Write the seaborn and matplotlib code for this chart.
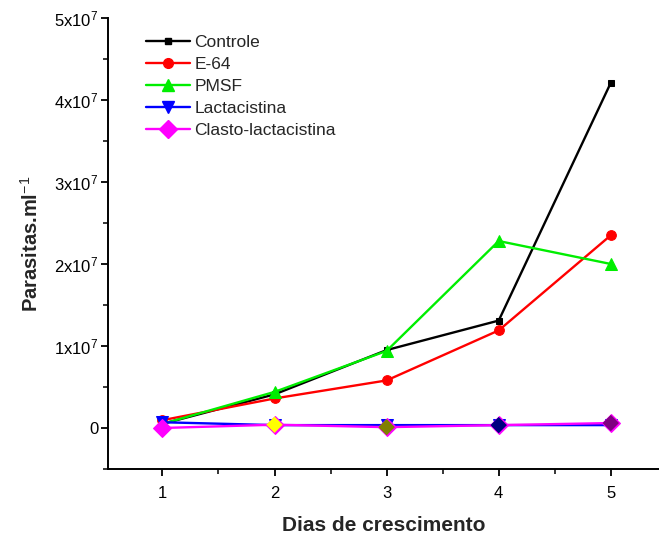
import matplotlib
matplotlib.use("Agg")
import matplotlib.pyplot as plt
from matplotlib.ticker import MultipleLocator, FixedLocator
from matplotlib.lines import Line2D
import seaborn as sns
import pandas as pd

days = [1, 2, 3, 4, 5]
controle = [0.5e6, 4.1e6, 9.5e6, 13.1e6, 42.1e6]
e64 = [0.95e6, 3.6e6, 5.8e6, 11.9e6, 23.5e6]
pmsf = [0.5e6, 4.4e6, 9.4e6, 22.8e6, 20.0e6]
lactacistina = [0.7e6, 0.35e6, 0.35e6, 0.35e6, 0.35e6]
clasto = [0.0e6, 0.4e6, 0.1e6, 0.35e6, 0.6e6]

series_names = ["Controle", "E-64", "PMSF", "Lactacistina", "Clasto-lactacistina"]
series_values = [controle, e64, pmsf, lactacistina, clasto]
colors = ["#000000", "#ff0000", "#00ee00", "#0000ff", "#ff00ff"]
markers = ["s", "o", "^", "v", "D"]
marker_sizes = [5, 7, 9, 9, 9]
clasto_point_colors = ["#ff00ff", "#ffff00", "#808000", "#000080", "#800080"]

yticks = [0, 1e7, 2e7, 3e7, 4e7, 5e7]
ytick_labels = ["0", r"1x10$^7$", r"2x10$^7$", r"3x10$^7$", r"4x10$^7$", r"5x10$^7$"]

rows = []
for name, vals in zip(series_names, series_values):
    for d, v in zip(days, vals):
        rows.append({"dia": d, "valor": v, "serie": name})
df = pd.DataFrame(rows)

sns.set_style("ticks")
plt.rcParams["font.family"] = ["Liberation Sans", "DejaVu Sans"]
plt.rcParams["mathtext.fontset"] = "custom"
plt.rcParams["mathtext.rm"] = "Liberation Sans"
plt.rcParams["mathtext.it"] = "Liberation Sans"
plt.rcParams["mathtext.bf"] = "Liberation Sans:bold"

fig = plt.figure(figsize=(6.59, 5.43), dpi=100)
ax = fig.add_axes([0.164, 0.1363, 0.836, 0.8306])

for name, col, mk, ms in zip(series_names, colors, markers, marker_sizes):
    sub = df[df["serie"] == name]
    sns.lineplot(data=sub, x="dia", y="valor", color=col, marker=mk,
                 markersize=ms, markeredgecolor=col, linewidth=1.7,
                 ax=ax, legend=False, zorder=3)

# Individually coloured markers for the clasto-lactacistina series
sub = df[df["serie"] == "Clasto-lactacistina"]
sns.scatterplot(data=sub, x="dia", y="valor", hue="dia",
                palette=dict(zip(days, clasto_point_colors)), marker="D",
                s=70, edgecolor="none", ax=ax, legend=False, zorder=4)

ax.set_xlim(0.515, 5.43)
ax.set_ylim(-5e6, 5e7)
ax.xaxis.set_major_locator(FixedLocator(days))
ax.xaxis.set_minor_locator(MultipleLocator(0.5))
ax.yaxis.set_major_locator(FixedLocator(yticks))
ax.yaxis.set_minor_locator(MultipleLocator(5e6))
ax.set_yticklabels(ytick_labels)
ax.tick_params(axis="both", which="major", direction="out", length=5, width=1.3,
               labelsize=12, colors="black")
ax.tick_params(axis="x", which="major", pad=7)
ax.tick_params(axis="y", which="major", pad=2)
ax.tick_params(axis="both", which="minor", direction="out", length=3.5, width=1.3)
for sp in ["top", "right"]:
    ax.spines[sp].set_visible(False)
for sp in ["left", "bottom"]:
    ax.spines[sp].set_linewidth(1.4)
    ax.spines[sp].set_color("black")

ax.set_xlabel("Dias de crescimento", fontsize=15, fontweight="bold", labelpad=11)
ax.set_ylabel(r"Parasitas.ml$^{-1}$", fontsize=14.5, fontweight="bold", labelpad=9)

handles = [Line2D([0], [0], color=c, marker=m, markersize=ms, markeredgecolor=c,
                  linewidth=1.7)
           for c, m, ms in zip(colors, markers, marker_sizes)]
ax.legend(handles, series_names, loc="upper left",
          bbox_to_anchor=(146 / 659, 1 - 35 / 543), bbox_transform=fig.transFigure,
          frameon=False, fontsize=12.5, handlelength=2.55, handletextpad=0.25,
          labelspacing=0.39, borderaxespad=0, borderpad=0)

fig.savefig("out.png", dpi=100)
